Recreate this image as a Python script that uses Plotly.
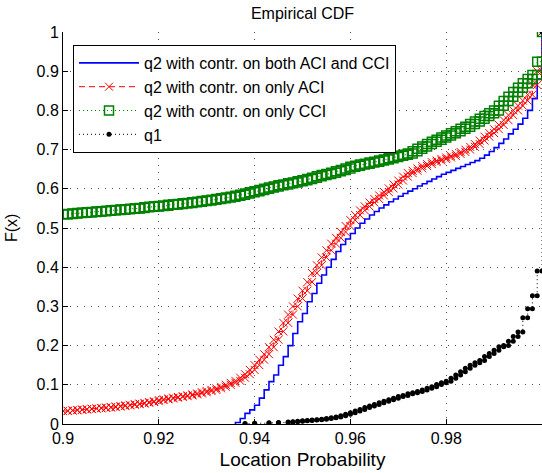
import plotly.graph_objects as go

# Location-probability grid (x values of the empirical CDF steps)
loc_prob = [round(0.9 + i / 1000, 3) for i in range(101)]

# F(x) at each grid value (None = no samples yet)
cdf_both = [None] * 36 + [
    0.004, 0.014, 0.027, 0.036, 0.048, 0.066, 0.087, 0.108, 0.125, 0.150,
    0.172, 0.200, 0.231, 0.261, 0.282, 0.312, 0.333, 0.359, 0.380, 0.400,
    0.420, 0.440, 0.458, 0.472, 0.486, 0.500, 0.512, 0.523, 0.533, 0.542,
    0.551, 0.559, 0.567, 0.574, 0.581, 0.588, 0.594, 0.600, 0.607, 0.613,
    0.619, 0.625, 0.631, 0.637, 0.642, 0.647, 0.652, 0.657, 0.662, 0.667,
    0.672, 0.678, 0.686, 0.695, 0.705, 0.716, 0.727, 0.740, 0.752, 0.765,
    0.780, 0.800, 0.830, 0.880, 1.000]

cdf_aci = [
    0.033, 0.034, 0.035, 0.036, 0.037, 0.038, 0.039, 0.040, 0.041, 0.042,
    0.043, 0.0445, 0.046, 0.0475, 0.049, 0.0505, 0.052, 0.054, 0.056, 0.058,
    0.061, 0.063, 0.065, 0.067, 0.069, 0.071, 0.073, 0.0755, 0.078, 0.081,
    0.084, 0.087, 0.091, 0.095, 0.100, 0.105, 0.110, 0.118, 0.127, 0.138,
    0.150, 0.164, 0.178, 0.196, 0.215, 0.236, 0.258, 0.279, 0.300, 0.320,
    0.340, 0.362, 0.385, 0.405, 0.425, 0.443, 0.460, 0.475, 0.490, 0.505,
    0.520, 0.533, 0.545, 0.555, 0.565, 0.574, 0.583, 0.592, 0.601, 0.611,
    0.621, 0.631, 0.640, 0.646, 0.652, 0.658, 0.663, 0.668, 0.672, 0.676,
    0.680, 0.684, 0.689, 0.694, 0.700, 0.707, 0.714, 0.723, 0.733, 0.742,
    0.752, 0.763, 0.775, 0.788, 0.800, 0.812, 0.825, 0.840, 0.865, 0.900,
    1.000]

cdf_cci = [
    0.535, 0.536, 0.537, 0.538, 0.539, 0.540, 0.541, 0.542, 0.543, 0.544,
    0.545, 0.546, 0.547, 0.548, 0.549, 0.550, 0.551, 0.553, 0.554, 0.555,
    0.556, 0.557, 0.559, 0.560, 0.561, 0.563, 0.564, 0.566, 0.567, 0.569,
    0.570, 0.572, 0.574, 0.576, 0.578, 0.580, 0.582, 0.585, 0.588, 0.591,
    0.594, 0.597, 0.600, 0.603, 0.606, 0.609, 0.611, 0.614, 0.616, 0.619,
    0.622, 0.625, 0.628, 0.632, 0.635, 0.638, 0.641, 0.645, 0.648, 0.652,
    0.656, 0.659, 0.662, 0.664, 0.667, 0.669, 0.672, 0.675, 0.678, 0.681,
    0.684, 0.687, 0.690, 0.696, 0.702, 0.708, 0.714, 0.720, 0.725, 0.731,
    0.736, 0.742, 0.747, 0.753, 0.758, 0.765, 0.772, 0.779, 0.786, 0.793,
    0.800, 0.812, 0.824, 0.835, 0.847, 0.858, 0.869, 0.880, 0.890, 0.924,
    1.000]

cdf_q1 = [None] * 38 + [
    0.001, 0.001, 0.002, 0.002, 0.002, 0.003, 0.003, 0.004, 0.004, 0.005,
    0.006, 0.007, 0.008, 0.009, 0.010, 0.011, 0.012, 0.014, 0.016, 0.018,
    0.021, 0.025, 0.029, 0.033, 0.037, 0.042, 0.046, 0.050, 0.054, 0.058,
    0.062, 0.066, 0.070, 0.073, 0.077, 0.080, 0.083, 0.087, 0.091, 0.095,
    0.101, 0.105, 0.109, 0.117, 0.125, 0.133, 0.142, 0.150, 0.156, 0.162,
    0.172, 0.180, 0.188, 0.197, 0.200, 0.211, 0.223, 0.235, 0.271, 0.294,
    0.327, 0.390, 1.000]

series_names = ["q2 with contr. on both ACI and CCI",
                "q2 with contr. on only ACI",
                "q2 with contr. on only CCI",
                "q1"]
x_ticks = [0.9, 0.92, 0.94, 0.96, 0.98, 1.0]
x_tick_text = ["0.9", "0.92", "0.94", "0.96", "0.98", "1"]
y_ticks = [0, 0.1, 0.2, 0.3, 0.4, 0.5, 0.6, 0.7, 0.8, 0.9, 1.0]
y_tick_text = ["0", "0.1", "0.2", "0.3", "0.4", "0.5", "0.6", "0.7", "0.8", "0.9", "1"]


def stairs(xs, fs, start_zero):
    px, py = [], []
    prev = None
    for x, f in zip(xs, fs):
        if f is None:
            continue
        if prev is None:
            if start_zero:
                px.append(x); py.append(0.0)
            px.append(x); py.append(f)
        elif f != prev:
            px.append(x); py.append(prev)
            px.append(x); py.append(f)
        prev = f
    return px, py


fig = go.Figure()

bx, by = stairs(loc_prob, cdf_both, True)
fig.add_trace(go.Scatter(x=bx, y=by, mode="lines", name=series_names[0],
                         legendgroup="a",
                         line=dict(color="#0000ff", width=1.6)))

rx, ry = stairs(loc_prob, cdf_aci, False)
fig.add_trace(go.Scatter(x=rx, y=ry, mode="lines+markers", name=series_names[1],
                         legendgroup="b",
                         line=dict(color="#ff0000", width=1, dash="6px,4px"),
                         marker=dict(symbol="x-thin-open", size=8,
                                     line=dict(color="#ff0000", width=1))))

gx, gy = stairs(loc_prob, cdf_cci, False)
fig.add_trace(go.Scatter(x=gx, y=gy, mode="lines+markers", name=series_names[2],
                         legendgroup="c",
                         line=dict(color="#008000", width=1, dash="1px,3px"),
                         marker=dict(symbol="square-open", size=9, color="#008000",
                                     line=dict(color="#008000", width=1.5))))

kx, ky = stairs(loc_prob, cdf_q1, True)
fig.add_trace(go.Scatter(x=kx, y=ky, mode="lines+markers", name=series_names[3],
                         legendgroup="d",
                         line=dict(color="#000000", width=1, dash="1px,3px"),
                         marker=dict(symbol="circle", size=5, color="#000000")))

grid_dash = "1px,6px"
fig.update_layout(
    width=542, height=473,
    margin=dict(l=63, r=0, t=32, b=49),
    paper_bgcolor="white", plot_bgcolor="white",
    font=dict(family="Liberation Sans, Arial, sans-serif", size=16, color="black"),
    title=dict(text="Empirical CDF", x=0.5, xref="paper", xanchor="center",
               y=1 - 13 / 473, yref="container", yanchor="middle",
               font=dict(size=16)),
    legend=dict(x=(73 - 63) / 479, y=(424 - 45) / 392, xanchor="left", yanchor="top",
                bgcolor="white", bordercolor="black", borderwidth=1,
                font=dict(size=16), itemwidth=60, tracegroupgap=5,
                traceorder="normal"),
    xaxis=dict(range=[0.9, 1.0], tickvals=x_ticks, ticktext=x_tick_text,
               ticks="inside", ticklen=5, tickcolor="black",
               showgrid=True, gridcolor="#555", gridwidth=1, griddash=grid_dash,
               showline=True, linecolor="black", linewidth=1, zeroline=False,
               automargin=False,
               title=dict(text="Location Probability", standoff=6)),
    xaxis2=dict(range=[0.9, 1.0], tickvals=x_ticks, overlaying="x", side="top",
                anchor="y", ticks="inside", ticklen=5, tickcolor="black",
                showticklabels=False, showgrid=False, showline=False,
                zeroline=False, automargin=False),
    yaxis=dict(range=[0, 1], tickvals=y_ticks, ticktext=y_tick_text,
               ticks="inside", ticklen=5, tickcolor="black",
               showgrid=True, gridcolor="#555", gridwidth=1, griddash=grid_dash,
               showline=True, linecolor="black", linewidth=1, zeroline=False,
               automargin=False),
    annotations=[dict(text="F(x)", textangle=-90, showarrow=False,
                      xref="paper", yref="paper",
                      x=(11 - 63) / 479, y=(424 - 228) / 392,
                      xanchor="center", yanchor="middle",
                      font=dict(size=16))],
)

fig.write_html("out.html")
